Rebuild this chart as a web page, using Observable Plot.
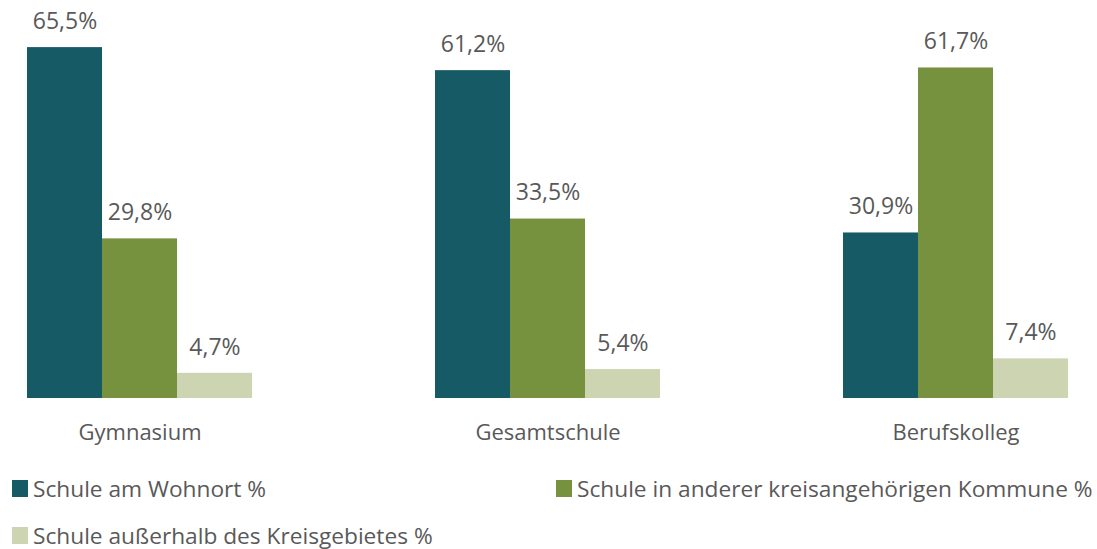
<!DOCTYPE html>
<html>
<head>
<meta charset="utf-8">
<script src="https://cdn.jsdelivr.net/npm/d3@7"></script>
<script src="https://cdn.jsdelivr.net/npm/@observablehq/plot@0.6"></script>
<style>
  body { margin: 0; background: #fff; font-family: "Open Sans", sans-serif; }
  #legend { display: grid; grid-template-columns: 544px auto; padding-left: 12px; padding-top: 10px; color: #595959; font-size: 22.7px; }
  .item { display: flex; align-items: center; height: 47px; white-space: nowrap; }
  .sw { width: 16px; height: 17px; margin-right: 5px; flex: none; }
</style>
</head>
<body>
<div id="chart"></div>
<div id="legend"></div>
<script>
const categories = ["Gymnasium", "Gesamtschule", "Berufskolleg"];
const seriesNames = ["Schule am Wohnort %", "Schule in anderer kreisangehörigen Kommune %", "Schule außerhalb des Kreisgebietes %"];
const seriesColors = ["#165a66", "#77923e", "#ccd4b1"];
const wohnort = [65.5, 61.2, 30.9];
const andereKommune = [29.8, 33.5, 61.7];
const ausserhalb = [4.7, 5.4, 7.4];

const seriesValues = [wohnort, andereKommune, ausserhalb];
const data = [];
categories.forEach((c, i) => {
  seriesNames.forEach((s, j) => data.push({category: c, series: s, value: seriesValues[j][i]}));
});
const fmt = v => v.toFixed(1).replace(".", ",") + "%";

const chart = Plot.plot({
  width: 1097,
  height: 455,
  marginLeft: 27,
  marginRight: 29,
  marginTop: 23,
  marginBottom: 57,
  style: {fontFamily: "Open Sans, sans-serif", color: "#595959", background: "#fff"},
  fx: {domain: categories, paddingInner: 0.4485, paddingOuter: 0, round: false, label: null},
  x: {domain: seriesNames, padding: 0, round: false, axis: null},
  y: {domain: [0, 70], axis: null},
  color: {domain: seriesNames, range: seriesColors},
  marks: [
    Plot.barY(data, {fx: "category", x: "series", y: "value", fill: "series", inset: 0}),
    Plot.text(data, {fx: "category", x: "series", y: "value", text: d => fmt(d.value), dy: -26, fontSize: 23, fill: "#595959"}),
    Plot.axisFx({anchor: "bottom", tickSize: 0, tickPadding: 26, fontSize: 22, label: null, color: "#595959"})
  ]
});
document.getElementById("chart").append(chart);

const legend = document.getElementById("legend");
seriesNames.forEach((s, j) => {
  const item = document.createElement("div");
  item.className = "item";
  const sw = document.createElement("span");
  sw.className = "sw";
  sw.style.background = seriesColors[j];
  const t = document.createElement("span");
  t.textContent = s;
  item.append(sw, t);
  legend.append(item);
});
</script>
</body>
</html>
